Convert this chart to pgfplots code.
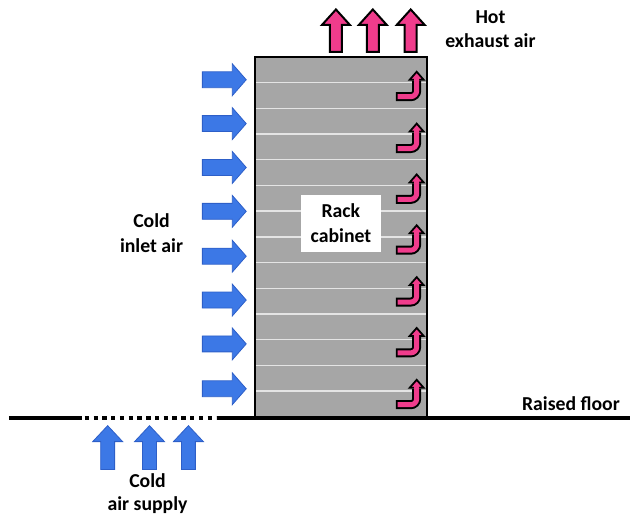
\documentclass[border=0pt]{standalone}
\usepackage{pgfplots}
\pgfplotsset{compat=1.18}
\usepackage{fontspec}
\setmainfont{Carlito}
\definecolor{rackgray}{RGB}{166,166,166}
\definecolor{airblue}{RGB}{60,120,230}
\definecolor{airblueedge}{RGB}{45,95,200}
\definecolor{hotpink}{RGB}{240,60,140}
\definecolor{linewhite}{RGB}{228,228,228}
\tikzset{lbl/.style={anchor=base, font=\bfseries\fontsize{19.8}{23}\selectfont, inner sep=0pt}}
\begin{document}
\begin{tikzpicture}
\begin{axis}[
  scale only axis, width=632pt, height=518pt,
  xmin=0, xmax=632, ymin=0, ymax=518, y dir=reverse,
  hide axis, clip=false,
]
% rack cabinet
\addplot[fill=rackgray, draw=black, line width=2pt, line join=miter] coordinates {(256,57) (428,57) (428,418) (256,418)} -- cycle;
% shelf lines
\addplot[linewhite, line width=1.4pt, unbounded coords=jump] coordinates {
(257,82.8) (427,82.8) (nan,nan)
(257,108.6) (427,108.6) (nan,nan)
(257,134.4) (427,134.4) (nan,nan)
(257,160.2) (427,160.2) (nan,nan)
(257,186) (427,186) (nan,nan)
(257,211.8) (427,211.8) (nan,nan)
(257,237.6) (427,237.6) (nan,nan)
(257,263.4) (427,263.4) (nan,nan)
(257,289.2) (427,289.2) (nan,nan)
(257,315) (427,315) (nan,nan)
(257,340.8) (427,340.8) (nan,nan)
(257,366.6) (427,366.6) (nan,nan)
(257,392.4) (427,392.4)
};
% J-shaped hot air arrows inside the rack
\addplot[black, line width=9pt, rounded corners=6pt] coordinates {(397,97) (418,97) (418,81)};
\addplot[fill=hotpink, draw=black, line width=1.8pt, line join=miter] coordinates {(411,80) (418,72) (425,80)} -- cycle;
\addplot[hotpink, line width=5pt, rounded corners=6pt] coordinates {(399,97) (418,97) (418,78)};

\addplot[black, line width=9pt, rounded corners=6pt] coordinates {(397,149) (418,149) (418,133)};
\addplot[fill=hotpink, draw=black, line width=1.8pt, line join=miter] coordinates {(411,132) (418,124) (425,132)} -- cycle;
\addplot[hotpink, line width=5pt, rounded corners=6pt] coordinates {(399,149) (418,149) (418,130)};

\addplot[black, line width=9pt, rounded corners=6pt] coordinates {(397,200) (418,200) (418,184)};
\addplot[fill=hotpink, draw=black, line width=1.8pt, line join=miter] coordinates {(411,183) (418,175) (425,183)} -- cycle;
\addplot[hotpink, line width=5pt, rounded corners=6pt] coordinates {(399,200) (418,200) (418,181)};

\addplot[black, line width=9pt, rounded corners=6pt] coordinates {(397,251) (418,251) (418,235)};
\addplot[fill=hotpink, draw=black, line width=1.8pt, line join=miter] coordinates {(411,234) (418,226) (425,234)} -- cycle;
\addplot[hotpink, line width=5pt, rounded corners=6pt] coordinates {(399,251) (418,251) (418,232)};

\addplot[black, line width=9pt, rounded corners=6pt] coordinates {(397,303) (418,303) (418,287)};
\addplot[fill=hotpink, draw=black, line width=1.8pt, line join=miter] coordinates {(411,286) (418,278) (425,286)} -- cycle;
\addplot[hotpink, line width=5pt, rounded corners=6pt] coordinates {(399,303) (418,303) (418,284)};

\addplot[black, line width=9pt, rounded corners=6pt] coordinates {(397,354) (418,354) (418,338)};
\addplot[fill=hotpink, draw=black, line width=1.8pt, line join=miter] coordinates {(411,337) (418,329) (425,337)} -- cycle;
\addplot[hotpink, line width=5pt, rounded corners=6pt] coordinates {(399,354) (418,354) (418,335)};

\addplot[black, line width=9pt, rounded corners=6pt] coordinates {(397,406) (418,406) (418,390)};
\addplot[fill=hotpink, draw=black, line width=1.8pt, line join=miter] coordinates {(411,389) (418,381) (425,389)} -- cycle;
\addplot[hotpink, line width=5pt, rounded corners=6pt] coordinates {(399,406) (418,406) (418,387)};

% label box
\addplot[fill=white, draw=none] coordinates {(302,196) (382,196) (382,253) (302,253)} -- cycle;

% hot exhaust arrows above the rack
\addplot[fill=hotpink, draw=black, line width=2pt, line join=miter] coordinates {(331,52) (331,25) (323,25) (337,9.5) (351,25) (343,25) (343,52)} -- cycle;
\addplot[fill=hotpink, draw=black, line width=2pt, line join=miter] coordinates {(368,52) (368,25) (360,25) (374,9.5) (388,25) (380,25) (380,52)} -- cycle;
\addplot[fill=hotpink, draw=black, line width=2pt, line join=miter] coordinates {(406,52) (406,25) (398,25) (412,9.5) (426,25) (418,25) (418,52)} -- cycle;

% cold inlet arrows
\addplot[fill=airblue, draw=airblueedge, line width=0.8pt, line join=miter] coordinates {(203,72) (233,72) (233,64) (247,80) (233,96) (233,88) (203,88)} -- cycle;
\addplot[fill=airblue, draw=airblueedge, line width=0.8pt, line join=miter] coordinates {(203,116) (233,116) (233,108) (247,124) (233,140) (233,132) (203,132)} -- cycle;
\addplot[fill=airblue, draw=airblueedge, line width=0.8pt, line join=miter] coordinates {(203,160) (233,160) (233,152) (247,168) (233,184) (233,176) (203,176)} -- cycle;
\addplot[fill=airblue, draw=airblueedge, line width=0.8pt, line join=miter] coordinates {(203,204) (233,204) (233,196) (247,212) (233,228) (233,220) (203,220)} -- cycle;
\addplot[fill=airblue, draw=airblueedge, line width=0.8pt, line join=miter] coordinates {(203,249) (233,249) (233,241) (247,257) (233,273) (233,265) (203,265)} -- cycle;
\addplot[fill=airblue, draw=airblueedge, line width=0.8pt, line join=miter] coordinates {(203,293) (233,293) (233,285) (247,301) (233,317) (233,309) (203,309)} -- cycle;
\addplot[fill=airblue, draw=airblueedge, line width=0.8pt, line join=miter] coordinates {(203,337) (233,337) (233,329) (247,345) (233,361) (233,353) (203,353)} -- cycle;
\addplot[fill=airblue, draw=airblueedge, line width=0.8pt, line join=miter] coordinates {(203,382) (233,382) (233,374) (247,390) (233,406) (233,398) (203,398)} -- cycle;

% raised floor
\addplot[black, line width=4pt] coordinates {(9,419) (82,419)};
\addplot[black, line width=4pt, dash pattern=on 4.4pt off 4.4pt] coordinates {(85,419) (217,419)};
\addplot[black, line width=4pt] coordinates {(218,419) (632,419)};

% cold air supply arrows
\addplot[fill=airblue, draw=airblueedge, line width=0.8pt, line join=miter] coordinates {(101,471) (101,443) (93,443) (108,427) (123,443) (115,443) (115,471)} -- cycle;
\addplot[fill=airblue, draw=airblueedge, line width=0.8pt, line join=miter] coordinates {(143,471) (143,443) (135,443) (150,427) (165,443) (157,443) (157,471)} -- cycle;
\addplot[fill=airblue, draw=airblueedge, line width=0.8pt, line join=miter] coordinates {(182,471) (182,443) (174,443) (189,427) (204,443) (196,443) (196,471)} -- cycle;

% labels
\node[lbl] at (axis cs:492,24) {Hot};
\node[lbl] at (axis cs:492,48) {exhaust air};
\node[lbl] at (axis cs:152,228.3) {Cold};
\node[lbl] at (axis cs:152,253.3) {inlet air};
\node[lbl] at (axis cs:342,218.3) {Rack};
\node[lbl] at (axis cs:342,243) {cabinet};
\node[lbl, anchor=base east] at (axis cs:622,411.7) {Raised floor};
\node[lbl] at (axis cs:148,489) {Cold};
\node[lbl] at (axis cs:148,512) {air supply};

\path (rel axis cs:0,0) rectangle (rel axis cs:1,1);
\end{axis}
\end{tikzpicture}
\end{document}
